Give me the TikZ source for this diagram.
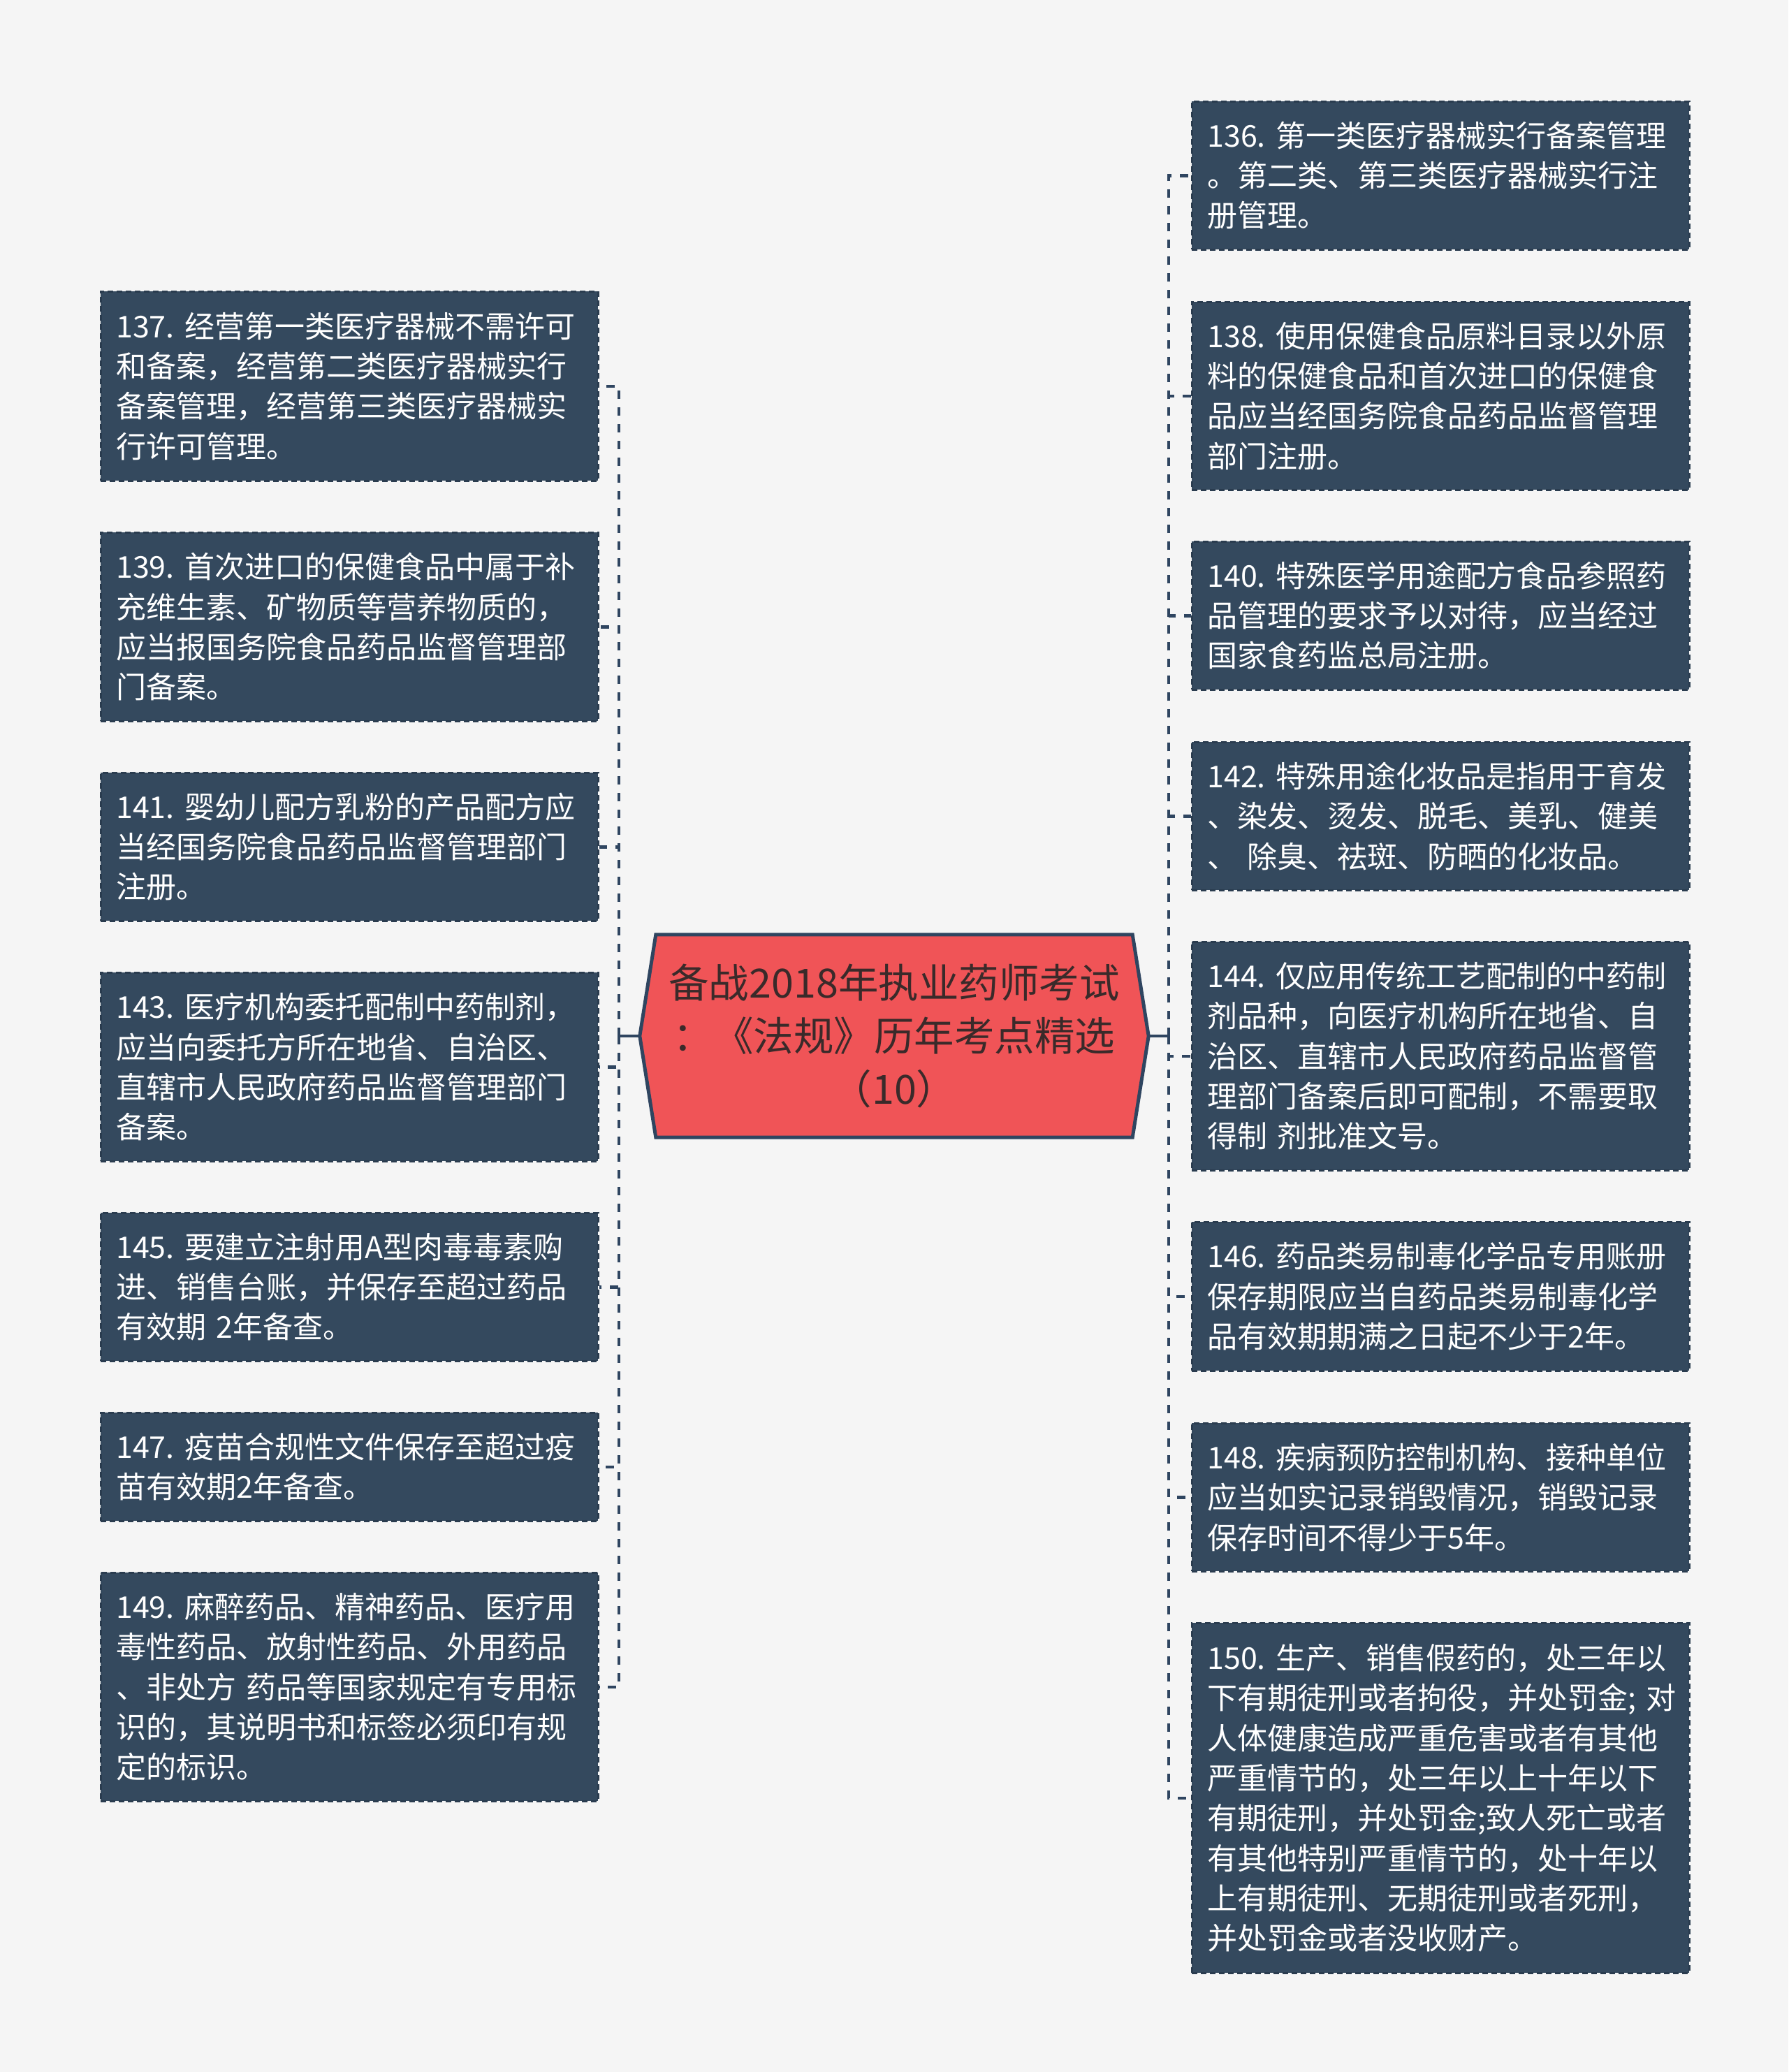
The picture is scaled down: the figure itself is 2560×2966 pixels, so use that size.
\documentclass[tikz,border=0pt]{standalone}
\usepackage{fontspec}
\setmainfont{Noto Sans CJK SC}
\usetikzlibrary{backgrounds}
\definecolor{bg}{HTML}{F5F5F5}
\definecolor{boxfill}{HTML}{34495E}
\definecolor{boxline}{HTML}{2A3C4F}
\definecolor{conn}{HTML}{2F4560}
\definecolor{rootfill}{HTML}{F05457}
\definecolor{roottext}{HTML}{3A2A2A}
\begin{document}
\begin{tikzpicture}[x=1pt,y=-1pt,
 leaf/.style={draw=boxline, fill=boxfill, line width=2.5pt, dash pattern=on 8pt off 5pt,
   text=white, font=\fontsize{43}{57.3}\selectfont, align=left, text width=668pt,
   inner xsep=22pt, inner ysep=0pt, anchor=north west},
 rootnode/.style={align=center, text=roottext, font=\fontsize{57.5}{75.7}\selectfont,
   minimum width=682pt, minimum height=290pt, inner sep=0pt},
 dashconn/.style={draw=conn, line width=4.5pt, dash pattern=on 12pt off 12pt},
 solidconn/.style={draw=conn, line width=4pt},
]
\useasboundingbox (0,0) rectangle (2560,2966);
\begin{scope}[on background layer]
\fill[bg] (0,0) rectangle (2560,2966);
\end{scope}

\node[rootnode] (root) at (1280,1483) {备战2018年执业药师考试\\：《法规》历年考点精选\\（10）};
\begin{scope}[on background layer]
\draw[fill=rootfill, draw=conn, line width=5pt, line join=miter]
  ([xshift=-23pt]root.west) -- (root.north west) -- (root.north east) -- ([xshift=23pt]root.east)
  -- (root.south east) -- (root.south west) -- cycle;
\end{scope}
\coordinate (rootL) at ([xshift=-23pt]root.west);
\coordinate (rootR) at ([xshift=23pt]root.east);
\coordinate (jL) at (886,1483);
\coordinate (jR) at (1673,1483);

% left boxes
\node[leaf, minimum height=271pt] (b137) at (143,416) {137.~经营第一类医疗器械不需许可\\和备案，经营第二类医疗器械实行\\备案管理，经营第三类医疗器械实\\行许可管理。};
\node[leaf, minimum height=270pt] (b139) at (143,761) {139.~首次进口的保健食品中属于补\\充维生素、矿物质等营养物质的，\\应当报国务院食品药品监督管理部\\门备案。};
\node[leaf, minimum height=212pt] (b141) at (143,1105) {141.~婴幼儿配方乳粉的产品配方应\\当经国务院食品药品监督管理部门\\注册。};
\node[leaf, minimum height=270pt] (b143) at (143,1391) {143.~医疗机构委托配制中药制剂，\\应当向委托方所在地省、自治区、\\直辖市人民政府药品监督管理部门\\备案。};
\node[leaf, minimum height=212pt] (b145) at (143,1735) {145.~要建立注射用A型肉毒毒素购\\进、销售台账，并保存至超过药品\\有效期~2年备查。};
\node[leaf, minimum height=155pt] (b147) at (143,2021) {147.~疫苗合规性文件保存至超过疫\\苗有效期2年备查。};
\node[leaf, minimum height=327pt] (b149) at (143,2250) {149.~麻醉药品、精神药品、医疗用\\毒性药品、放射性药品、外用药品\\、非处方~药品等国家规定有专用标\\识的，其说明书和标签必须印有规\\定的标识。};

% right boxes
\node[leaf, minimum height=212pt] (b136) at (1705,144) {136.~第一类医疗器械实行备案管理\\。第二类、第三类医疗器械实行注\\册管理。};
\node[leaf, minimum height=269pt] (b138) at (1705,431) {138.~使用保健食品原料目录以外原\\料的保健食品和首次进口的保健食\\品应当经国务院食品药品监督管理\\部门注册。};
\node[leaf, minimum height=212pt] (b140) at (1705,774) {140.~特殊医学用途配方食品参照药\\品管理的要求予以对待，应当经过\\国家食药监总局注册。};
\node[leaf, minimum height=212pt] (b142) at (1705,1061) {142.~特殊用途化妆品是指用于育发\\、染发、烫发、脱毛、美乳、健美\\、~除臭、祛斑、防晒的化妆品。};
\node[leaf, minimum height=327pt] (b144) at (1705,1347) {144.~仅应用传统工艺配制的中药制\\剂品种，向医疗机构所在地省、自\\治区、直辖市人民政府药品监督管\\理部门备案后即可配制，不需要取\\得制~剂批准文号。};
\node[leaf, minimum height=213pt] (b146) at (1705,1748) {146.~药品类易制毒化学品专用账册\\保存期限应当自药品类易制毒化学\\品有效期期满之日起不少于2年。};
\node[leaf, minimum height=212pt] (b148) at (1705,2036) {148.~疾病预防控制机构、接种单位\\应当如实记录销毁情况，销毁记录\\保存时间不得少于5年。};
\node[leaf, minimum height=501pt] (b150) at (1705,2322) {150.~生产、销售假药的，处三年以\\下有期徒刑或者拘役，并处罚金;~对\\人体健康造成严重危害或者有其他\\严重情节的，处三年以上十年以下\\有期徒刑，并处罚金;致人死亡或者\\有其他特别严重情节的，处十年以\\上有期徒刑、无期徒刑或者死刑，\\并处罚金或者没收财产。};

% connectors
\draw[solidconn] (rootL) -- (jL);
\draw[solidconn] (rootR) -- (jR);
\foreach \n in {137,139,141,143,145,147,149}
  \draw[dashconn] (jL) |- (b\n.east);
\foreach \n in {136,138,140,142,144,146,148,150}
  \draw[dashconn] (jR) |- (b\n.west);
\end{tikzpicture}
\end{document}
